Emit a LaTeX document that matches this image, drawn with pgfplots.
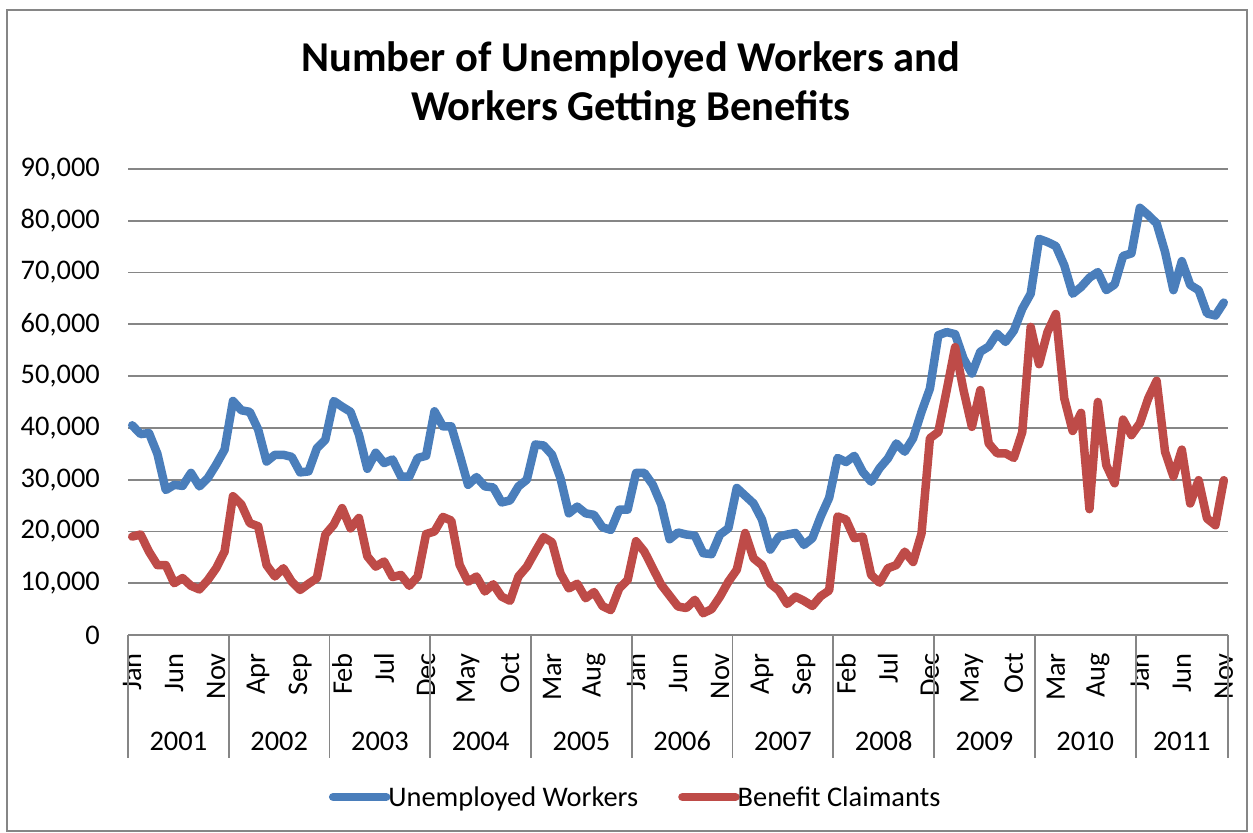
\documentclass[border=0pt]{standalone}
\usepackage{pgfplots}
\pgfplotsset{compat=1.18}
\usepackage{pgfplotstable}
\usepackage{fontspec}
\setmainfont{Carlito}
\definecolor{cblue}{HTML}{4A7EBB}
\definecolor{cred}{HTML}{BE4B48}
\definecolor{cgrid}{HTML}{868686}
\pgfplotstableread{
i u b
0 40500 19000
1 38800 19400
2 39000 16100
3 35000 13500
4 28000 13500
5 29000 10000
6 28800 11000
7 31300 9500
8 28700 8800
9 30300 10600
10 32900 12900
11 35800 16100
12 45200 26800
13 43400 25200
14 43100 21600
15 39700 21000
16 33500 13500
17 34800 11300
18 34800 12900
19 34400 10300
20 31400 8700
21 31600 9900
22 36100 11000
23 37700 19400
24 45200 21300
25 44100 24500
26 43100 20600
27 38700 22600
28 32100 15200
29 35200 13200
30 33200 14200
31 33900 11200
32 30600 11600
33 30600 9500
34 34200 11300
35 34600 19500
36 43200 20000
37 40300 22800
38 40300 22100
39 34800 13500
40 29000 10300
41 30500 11300
42 28700 8400
43 28500 9800
44 25600 7400
45 26000 6600
46 28700 11300
47 30000 13200
48 36800 16100
49 36600 18900
50 34800 17900
51 30300 11900
52 23500 9000
53 24800 9900
54 23500 7100
55 23200 8300
56 20800 5600
57 20300 4800
58 24200 9000
59 24200 10600
60 31300 18100
61 31300 16100
62 29000 12900
63 25200 9700
64 18500 7600
65 19800 5500
66 19400 5200
67 19200 6800
68 15800 4200
69 15600 5000
70 19400 7400
71 20600 10300
72 28400 12600
73 26900 19700
74 25400 14800
75 22300 13500
76 16500 9900
77 19000 8600
78 19400 6000
79 19700 7400
80 17400 6600
81 18700 5600
82 22900 7500
83 26500 8600
84 34200 22900
85 33400 22300
86 34600 18700
87 31500 19000
88 29600 11600
89 32200 10100
90 34100 12900
91 37000 13500
92 35400 16100
93 38000 14100
94 43100 19600
95 47600 38000
96 57900 39200
97 58500 47300
98 58100 55600
99 53400 47300
100 50500 40200
101 54700 47300
102 55700 37000
103 58200 35100
104 56600 35100
105 58800 34200
106 63000 39200
107 65900 59500
108 76500 52300
109 75900 58500
110 75100 62000
111 71400 45700
112 65900 39400
113 67200 42900
114 69000 24300
115 70100 45000
116 66600 32800
117 67700 29300
118 73200 41600
119 73700 38600
120 82500 40900
121 81100 45700
122 79500 49100
123 74000 35400
124 66600 30600
125 72200 35800
126 67600 25400
127 66600 29900
128 62100 22500
129 61700 21200
130 64200 29900
}\datatable
\newcommand{\lblfont}{\fontsize{28.4bp}{34bp}\selectfont}
\newcommand{\ttlfont}{\fontsize{42.5bp}{50bp}\selectfont\bfseries}
\begin{document}
\begin{tikzpicture}[x=1bp,y=1bp]
\path[use as bounding box] (0,0) rectangle (1253,833);
\draw[cgrid, line width=2bp] (7,2) rectangle (1247,822.5);
\node[font=\ttlfont, anchor=base, inner sep=0pt] at (631,761) {Number of Unemployed Workers and};
\node[font=\ttlfont, anchor=base, inner sep=0pt] at (631,712) {Workers Getting Benefits};
\begin{axis}[
  at={(128bp,198bp)}, anchor=south west,
  width=1100bp, height=466bp, scale only axis,
  xmin=-0.5, xmax=130.5, ymin=0, ymax=90000,
  clip=false,
  ytick={0,10000,20000,30000,40000,50000,60000,70000,80000,90000},
  scaled y ticks=false,
  /pgf/number format/fixed,
  /pgf/number format/1000 sep={,},
  /pgf/number format/assume math mode=true,
  xtick={0,5,...,130},
  xticklabels={Jan,Jun,Nov,Apr,Sep,Feb,Jul,Dec,May,Oct,Mar,Aug,Jan,Jun,Nov,Apr,Sep,Feb,Jul,Dec,May,Oct,Mar,Aug,Jan,Jun,Nov},
  xticklabel style={rotate=90, anchor=east, inner sep=0pt, font=\lblfont},
  xticklabel shift=18bp,
  yticklabel style={anchor=east, inner sep=0pt, font=\lblfont},
  yticklabel shift=28bp,
  major tick length=0pt,
  tick style={draw=none},
  axis line style={draw=none},
  ymajorgrids,
  major grid style={cgrid, line width=1.8bp},
  legend style={font=\lblfont, draw=none, fill=none,
    at={(axis description cs:0.4615,-0.3476)}, anchor=center,
    legend columns=2,
    /tikz/every odd column/.append style={column sep=-4bp},
    /tikz/every even column/.append style={column sep=38bp}},
  legend cell align=left,
  legend image code/.code={\draw[#1] (0bp,0bp) -- (53bp,0bp);},
]
\draw[cgrid, line width=1.8bp] (axis cs:-0.5,0) -- (axis cs:130.5,0);
\addplot[cblue, line width=8.5bp, line join=round, line cap=round, mark=none] table[x=i, y=u] {\datatable};
\addlegendentry{Unemployed Workers}
\addplot[cred, line width=8.5bp, line join=round, line cap=round, mark=none] table[x=i, y=b] {\datatable};
\addlegendentry{Benefit Claimants}
\foreach \s in {-0.5,11.5,23.5,35.5,47.5,59.5,71.5,83.5,95.5,107.5,119.5,130.5} {
  \edef\tmp{\noexpand\draw[cgrid, line width=1.8bp] (axis cs:\s,0) -- ++(0bp,-123bp);}
  \tmp
}
\node[font=\lblfont, yshift=-106bp] at (axis cs:5.5,0) {2001};
\node[font=\lblfont, yshift=-106bp] at (axis cs:17.5,0) {2002};
\node[font=\lblfont, yshift=-106bp] at (axis cs:29.5,0) {2003};
\node[font=\lblfont, yshift=-106bp] at (axis cs:41.5,0) {2004};
\node[font=\lblfont, yshift=-106bp] at (axis cs:53.5,0) {2005};
\node[font=\lblfont, yshift=-106bp] at (axis cs:65.5,0) {2006};
\node[font=\lblfont, yshift=-106bp] at (axis cs:77.5,0) {2007};
\node[font=\lblfont, yshift=-106bp] at (axis cs:89.5,0) {2008};
\node[font=\lblfont, yshift=-106bp] at (axis cs:101.5,0) {2009};
\node[font=\lblfont, yshift=-106bp] at (axis cs:113.5,0) {2010};
\node[font=\lblfont, yshift=-106bp] at (axis cs:125,0) {2011};
\end{axis}
\end{tikzpicture}
\end{document}
